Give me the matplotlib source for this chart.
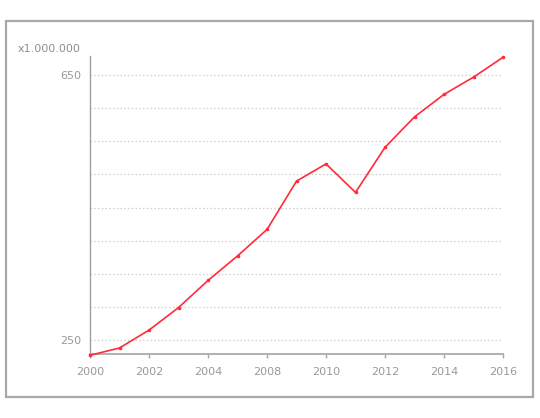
import matplotlib
matplotlib.use("Agg")
import matplotlib.pyplot as plt
from matplotlib.patches import Rectangle

# values in millions, one point per category
values = [227, 238, 265, 299, 340, 377, 417, 490, 516, 473, 541, 587, 621, 647, 677]
tick_pos = [0, 2, 4, 6, 8, 10, 12, 14]
tick_labels = ["2000", "2002", "2004", "2008", "2010", "2012", "2014", "2016"]
grid_levels = [250, 300, 350, 400, 450, 500, 550, 600, 650]
y_labels = {250: "250", 650: "650"}

plt.rcParams["font.family"] = ["DejaVu Sans"]

fig = plt.figure(figsize=(5.4, 4.18), dpi=100)
ax = fig.add_axes([0.1667, 0.1531, 0.7648, 0.713])

# outer frame
fig.patches.append(Rectangle((6 / 540, 1 - 397 / 418), 527 / 540, 376 / 418,
                             transform=fig.transFigure, fill=False,
                             edgecolor="#a8a8a8", linewidth=1.6))

for g in grid_levels:
    ax.axhline(g, color="#cfcfcf", linestyle=(0, (1.2, 1.8)), linewidth=0.9, zorder=1)

x = list(range(len(values)))
ax.plot(x, values, color="#ff2b3a", linewidth=1.2, marker="o", markersize=2.6,
        markeredgewidth=0, zorder=3, clip_on=False)

ax.set_xlim(0, len(values) - 1)
ax.set_ylim(228.9, 679)

ax.set_xticks(tick_pos)
ax.set_xticklabels(tick_labels)
ax.set_yticks(list(y_labels.keys()))
ax.set_yticklabels(list(y_labels.values()))

ax.tick_params(axis="x", colors="#a5a5a5", labelcolor="#999999", labelsize=8,
               length=3, width=1, pad=6)
ax.tick_params(axis="y", labelcolor="#999999", labelsize=8, length=0, pad=6.5)

for side in ["top", "right"]:
    ax.spines[side].set_visible(False)
ax.spines["left"].set_color("#a0a0a0")
ax.spines["left"].set_linewidth(1.0)
ax.spines["bottom"].set_color("#b0b0b0")
ax.spines["bottom"].set_linewidth(1.4)

fig.text(81 / 540, 1 - 49 / 418, "x1.000.000", ha="right", va="center",
         fontsize=8, color="#8e8e8e")

fig.savefig("out.png", dpi=100)
